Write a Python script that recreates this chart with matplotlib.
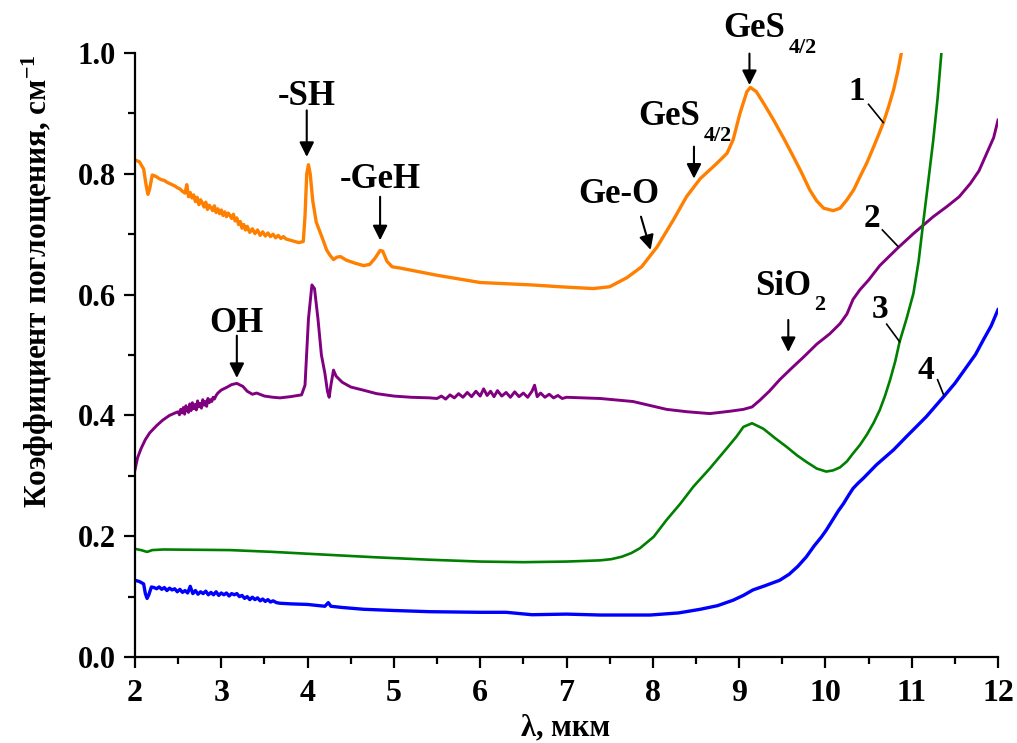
import matplotlib
matplotlib.use("Agg")
import matplotlib.pyplot as plt
from matplotlib.ticker import MultipleLocator, FormatStrFormatter

plt.rcParams['font.family'] = ['Liberation Serif', 'DejaVu Serif']
plt.rcParams['font.weight'] = 'bold'
plt.rcParams['mathtext.default'] = 'regular'

# ---- Curve 1 (orange) ----
x1 = [2.00, 2.05, 2.10, 2.13, 2.15, 2.17, 2.20,
      2.22, 2.25, 2.28, 2.31, 2.34, 2.37, 2.40, 2.43, 2.46, 2.49, 2.52, 2.55, 2.58, 2.60,
      2.62, 2.64, 2.66, 2.68, 2.70, 2.72, 2.74, 2.76, 2.78, 2.80, 2.82, 2.84, 2.86, 2.88,
      2.90, 2.92, 2.94, 2.96, 2.98, 3.00, 3.02, 3.04, 3.06, 3.08, 3.10, 3.12, 3.14, 3.16,
      3.18, 3.20, 3.22, 3.24, 3.26, 3.28, 3.30, 3.33, 3.36, 3.39, 3.42,
      3.45, 3.48, 3.51, 3.54, 3.57, 3.60, 3.63, 3.66, 3.69, 3.72, 3.75, 3.80, 3.85, 3.90,
      3.95, 3.97, 3.99, 4.01, 4.03, 4.06, 4.10, 4.14, 4.18, 4.22, 4.26, 4.30, 4.34, 4.38,
      4.45, 4.55, 4.65, 4.72, 4.78, 4.84, 4.87, 4.92, 4.98, 5.07, 5.50, 6.00, 6.60, 6.92,
      7.31, 7.50, 7.70, 7.87, 8.05, 8.24, 8.39, 8.55, 8.74, 8.86, 8.93, 9.01, 9.09, 9.13,
      9.20, 9.30, 9.40, 9.52, 9.63, 9.72, 9.82, 9.90, 9.98, 10.09, 10.17, 10.25, 10.33,
      10.40, 10.48, 10.56, 10.62, 10.67, 10.73, 10.79, 10.84, 10.88, 10.91]
y1 = [0.823, 0.820, 0.808, 0.780, 0.766, 0.775, 0.798,
      0.797, 0.795, 0.792, 0.790, 0.789, 0.786, 0.784, 0.782, 0.780, 0.777, 0.775, 0.771, 0.768, 0.782,
      0.762, 0.769, 0.760, 0.765, 0.754, 0.761, 0.749, 0.757, 0.752, 0.745, 0.753, 0.741, 0.748, 0.744,
      0.739, 0.747, 0.736, 0.742, 0.734, 0.740, 0.731, 0.737, 0.729, 0.735, 0.731, 0.726, 0.733, 0.722,
      0.727, 0.716, 0.721, 0.710, 0.716, 0.707, 0.713, 0.703, 0.709, 0.701, 0.707,
      0.698, 0.704, 0.697, 0.702, 0.696, 0.700, 0.694, 0.698, 0.693, 0.696, 0.692, 0.690, 0.688, 0.686,
      0.688, 0.730, 0.800, 0.815, 0.800, 0.755, 0.720, 0.705, 0.690, 0.674, 0.665, 0.658, 0.662, 0.663,
      0.657, 0.652, 0.648, 0.650, 0.660, 0.673, 0.672, 0.655, 0.646, 0.644, 0.632, 0.620, 0.616, 0.613,
      0.610, 0.613, 0.628, 0.646, 0.679, 0.724, 0.762, 0.792, 0.817, 0.834, 0.856, 0.900, 0.936, 0.943,
      0.936, 0.913, 0.889, 0.858, 0.828, 0.803, 0.773, 0.755, 0.743, 0.739, 0.743, 0.757, 0.774,
      0.795, 0.818, 0.845, 0.866, 0.884, 0.910, 0.939, 0.970, 1.000, 1.02]

# ---- Curve 2 (purple) ----
x2 = [2.00, 2.03, 2.07, 2.12, 2.17, 2.25, 2.32, 2.40, 2.48,
      2.50, 2.515, 2.53, 2.545, 2.56, 2.575, 2.59, 2.605, 2.62, 2.635, 2.65, 2.665, 2.68,
      2.695, 2.71, 2.725, 2.74, 2.755, 2.77, 2.785, 2.80, 2.815, 2.83, 2.845, 2.86, 2.875,
      2.89, 2.905, 2.92, 2.94, 2.96,
      3.00, 3.07, 3.12, 3.18, 3.25, 3.30, 3.36, 3.41, 3.50, 3.60, 3.68, 3.80, 3.93, 3.97,
      4.01, 4.05, 4.08, 4.12, 4.16, 4.20, 4.23, 4.25, 4.27, 4.30, 4.33, 4.40, 4.50, 4.64,
      4.80, 5.00, 5.20, 5.42,
      5.50, 5.55, 5.60, 5.65, 5.70, 5.75, 5.80, 5.85, 5.90, 5.95, 6.00, 6.04, 6.08, 6.12,
      6.16, 6.20, 6.25, 6.30, 6.35, 6.40, 6.45, 6.50, 6.55, 6.60, 6.63, 6.66, 6.70, 6.75,
      6.80, 6.85, 6.90, 6.95, 7.00,
      7.39, 7.77, 8.16, 8.40, 8.66, 8.90, 9.05, 9.15, 9.24, 9.35, 9.47, 9.60, 9.75, 9.90,
      10.05, 10.17, 10.25, 10.32, 10.40, 10.50, 10.63, 10.83, 11.02, 11.25, 11.41, 11.55,
      11.68, 11.78, 11.87, 11.95, 12.00]
y2 = [0.310, 0.330, 0.345, 0.360, 0.371, 0.383, 0.392, 0.400, 0.405,
      0.406, 0.401, 0.410, 0.404, 0.413, 0.402, 0.416, 0.409, 0.405, 0.419, 0.408, 0.421, 0.411,
      0.418, 0.409, 0.424, 0.414, 0.420, 0.412, 0.426, 0.417, 0.423, 0.415, 0.428, 0.421, 0.426,
      0.423, 0.430, 0.427, 0.433, 0.437,
      0.442, 0.447, 0.451, 0.453, 0.448, 0.440, 0.435, 0.437, 0.432, 0.430, 0.429, 0.431, 0.434, 0.450,
      0.560, 0.616, 0.610, 0.560, 0.500, 0.470, 0.440, 0.430, 0.450, 0.475, 0.465, 0.455, 0.447, 0.442,
      0.436, 0.432, 0.430, 0.429,
      0.428, 0.432, 0.427, 0.434, 0.429, 0.436, 0.430, 0.438, 0.431, 0.440, 0.432, 0.444, 0.433, 0.440,
      0.431, 0.441, 0.432, 0.438, 0.430, 0.439, 0.431, 0.437, 0.430, 0.440, 0.450, 0.431, 0.437, 0.430,
      0.435, 0.429, 0.433, 0.428, 0.430,
      0.428, 0.423, 0.410, 0.406, 0.403, 0.407, 0.410, 0.414, 0.425, 0.440, 0.459, 0.477, 0.497, 0.518,
      0.535, 0.552, 0.568, 0.592, 0.608, 0.624, 0.648, 0.676, 0.701, 0.729, 0.746, 0.762,
      0.784, 0.805, 0.834, 0.860, 0.889]

# ---- Curve 3 (green) ----
x3 = [2.00, 2.07, 2.14, 2.20, 2.33, 3.10, 3.60, 4.26, 4.80, 5.42, 6.00, 6.50, 7.00, 7.39,
      7.52, 7.64, 7.75, 7.85, 8.01, 8.16, 8.32, 8.47, 8.66, 8.86, 8.97, 9.05, 9.15, 9.28, 9.42, 9.55,
      9.67, 9.78, 9.90, 10.01, 10.09, 10.17, 10.25, 10.32, 10.40, 10.48, 10.56, 10.63, 10.69,
      10.75, 10.81, 10.86, 10.94, 11.02, 11.08, 11.13, 11.19, 11.25, 11.30, 11.35]
y3 = [0.179, 0.177, 0.174, 0.177, 0.178, 0.177, 0.174, 0.169, 0.165, 0.161, 0.158, 0.157, 0.158, 0.160,
      0.162, 0.166, 0.172, 0.180, 0.199, 0.227, 0.254, 0.282, 0.312, 0.346, 0.365, 0.381, 0.387, 0.378, 0.362, 0.348,
      0.334, 0.323, 0.312, 0.307, 0.309, 0.314, 0.324, 0.337, 0.351, 0.368, 0.388, 0.409, 0.432,
      0.459, 0.490, 0.522, 0.560, 0.602, 0.655, 0.715, 0.785, 0.856, 0.925, 1.01]

# ---- Curve 4 (blue) ----
x4 = [2.00, 2.05, 2.10, 2.12, 2.14, 2.16, 2.19,
      2.22, 2.25, 2.28, 2.31, 2.34, 2.37, 2.40, 2.43, 2.46, 2.49, 2.52, 2.55, 2.58, 2.61,
      2.64, 2.67, 2.70, 2.73, 2.76, 2.79, 2.82, 2.85, 2.88, 2.91, 2.94, 2.97, 3.00, 3.03,
      3.06, 3.09, 3.12, 3.15, 3.18, 3.21, 3.24, 3.27, 3.30, 3.33, 3.36, 3.39, 3.42, 3.45,
      3.48, 3.51, 3.54, 3.57, 3.60, 3.64, 3.68,
      3.80, 4.00, 4.20, 4.24, 4.27, 4.40, 4.65, 5.00, 5.42, 6.00, 6.30, 6.60, 7.00, 7.39,
      7.97, 8.30, 8.55, 8.75, 8.93, 9.05, 9.16, 9.30, 9.47, 9.58, 9.68, 9.78, 9.87, 9.95,
      10.01, 10.08, 10.15, 10.21, 10.27, 10.32, 10.38, 10.44, 10.59, 10.79, 10.94, 11.17,
      11.37, 11.50, 11.64, 11.74, 11.83, 11.92, 12.00]
y4 = [0.127, 0.125, 0.121, 0.105, 0.097, 0.103, 0.116,
      0.115, 0.113, 0.116, 0.112, 0.115, 0.110, 0.114, 0.111, 0.113, 0.108, 0.112, 0.107, 0.110, 0.106,
      0.117, 0.105, 0.110, 0.104, 0.108, 0.105, 0.109, 0.103, 0.107, 0.103, 0.108, 0.102, 0.106, 0.103,
      0.106, 0.101, 0.105, 0.103, 0.105, 0.100, 0.102, 0.097, 0.100, 0.095, 0.099, 0.095, 0.098, 0.093,
      0.096, 0.092, 0.095, 0.091, 0.093, 0.090, 0.089,
      0.088, 0.087, 0.084, 0.090, 0.084, 0.082, 0.079, 0.077, 0.075, 0.074, 0.074, 0.070, 0.071, 0.0695,
      0.0695, 0.073, 0.079, 0.085, 0.094, 0.102, 0.111, 0.118, 0.127, 0.137, 0.150, 0.166, 0.184, 0.198,
      0.210, 0.226, 0.242, 0.254, 0.268, 0.279, 0.288, 0.296, 0.318, 0.343, 0.365, 0.398,
      0.431, 0.453, 0.481, 0.501, 0.525, 0.548, 0.575]

colors = ['#FF8000', '#800080', '#008000', '#0000FF']
widths = [2.4, 2.1, 1.9, 2.4]

fig = plt.figure(figsize=(10.17, 7.43), dpi=100)
ax = fig.add_axes([135/1017, 86/743, 863/1017, 604/743])

for (xs, ys), c, w in zip([(x1, y1), (x2, y2), (x3, y3), (x4, y4)], colors, widths):
    ax.plot(xs, ys, color=c, lw=w, solid_joinstyle='round')

ax.set_xlim(2, 12)
ax.set_ylim(0, 1.0)
ax.xaxis.set_major_locator(MultipleLocator(1))
ax.xaxis.set_minor_locator(MultipleLocator(0.5))
ax.yaxis.set_major_locator(MultipleLocator(0.2))
ax.yaxis.set_minor_locator(MultipleLocator(0.1))
ax.yaxis.set_major_formatter(FormatStrFormatter('%.1f'))
for s in ['top', 'right']:
    ax.spines[s].set_visible(False)
for s in ['left', 'bottom']:
    ax.spines[s].set_linewidth(1.6)
ax.tick_params(which='major', direction='out', length=8, width=1.6)
ax.tick_params(which='minor', direction='out', length=5, width=1.6)
ax.tick_params(axis='y', which='major', labelsize=22, pad=6)
ax.tick_params(axis='x', which='major', labelsize=23, pad=8)
for lbl in ax.get_xticklabels() + ax.get_yticklabels():
    lbl.set_fontweight('bold')

fig.text(566/1017, 1 - 728/743, 'λ, мкм', ha='center', va='center', fontsize=22, fontweight='bold')
fig.text(38/1017, 1 - 281/743, 'Коэффициент поглощения, см$^{-1}$', ha='center', va='center',
         rotation=90, fontsize=22.5, fontweight='bold')

arrow = dict(arrowstyle='-|>', color='black', lw=1.5, mutation_scale=22, shrinkA=0, shrinkB=0)
fs = 25
sub_fs = 16


def label(txt, tx, ty, size=fs):
    ax.text(tx, ty, txt, ha='center', va='center', fontsize=size, fontweight='bold', clip_on=False)


def arr(ax0, ay0, ax1, ay1):
    ax.annotate('', xy=(ax1, ay1), xytext=(ax0, ay0), arrowprops=arrow, annotation_clip=False)


label('-SH', 3.99, 0.928)
arr(3.99, 0.905, 3.99, 0.828)
label('-GeH', 4.84, 0.79)
arr(4.84, 0.762, 4.84, 0.69)
label('OH', 3.18, 0.552)
arr(3.18, 0.532, 3.18, 0.462)
label('Ge-O', 7.61, 0.765)
arr(7.863, 0.729, 7.975, 0.674)
label('GeS', 8.188, 0.8945)
label('4/2', 8.75, 0.862, sub_fs)
arr(8.477, 0.845, 8.477, 0.792)
label('GeS', 9.18, 1.041)
label('4/2', 9.735, 1.0075, sub_fs)
arr(9.12, 0.999, 9.12, 0.947)
label('SiO', 9.51, 0.613)
label('2', 9.93, 0.583, sub_fs)
arr(9.57, 0.558, 9.57, 0.505)

# curve number labels with leader lines
nums = ['1', '2', '3', '4']
num_pos = [(10.36, 0.936), (10.54, 0.726), (10.63, 0.576), (11.17, 0.475)]
lead_from = [(10.50, 0.915), (10.66, 0.707), (10.71, 0.551), (11.30, 0.459)]
lead_to = [(10.67, 0.885), (10.84, 0.680), (10.86, 0.522), (11.37, 0.434)]
for n, (tx, ty), (lx0, ly0), (lx1, ly1) in zip(nums, num_pos, lead_from, lead_to):
    label(n, tx, ty, 24)
    ax.plot([lx0, lx1], [ly0, ly1], color='black', lw=1.2)

fig.savefig('out.png', dpi=100)
